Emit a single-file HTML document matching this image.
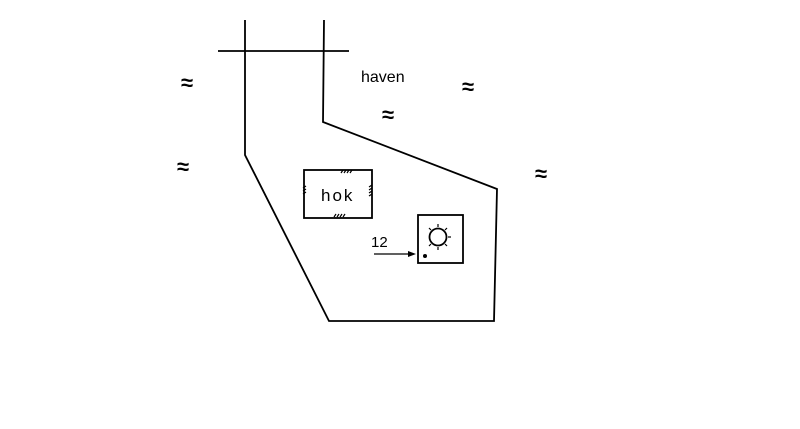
<!DOCTYPE html>
<html><head><style>body{margin:0;background:#fff}svg{display:block}</style></head><body>
<svg width="800" height="429" viewBox="0 0 800 429" xmlns="http://www.w3.org/2000/svg" font-family="Liberation Sans, sans-serif">
<g stroke="#000" fill="none" stroke-width="1.8">
<line x1="218" y1="51" x2="349" y2="51"/>
<polyline points="245,20 245,155 329,321 494,321 497,189 323,122 324,20"/>
<rect x="304" y="170" width="68" height="48"/>
<rect x="418" y="215" width="45" height="48"/>
<circle cx="438" cy="237" r="8.5"/>
<line x1="374" y1="254" x2="408" y2="254" stroke-width="1.2"/>
<g stroke-width="1.2">
<line x1="438" y1="224" x2="438" y2="227"/><line x1="447" y1="228" x2="445" y2="230"/><line x1="451" y1="237" x2="448" y2="237"/><line x1="447" y1="246" x2="445" y2="244"/><line x1="438" y1="250" x2="438" y2="247"/><line x1="429" y1="246" x2="431" y2="244"/><line x1="429" y1="228" x2="431" y2="230"/>
<path d="M341 173l2-3M344 173l2-3M347 173l2-3M350 173l2-3M334 217l2-3M337 217l2-3M340 217l2-3M343 217l2-3M303 188l3-2M303 191l3-2M303 194l3-2M369 187l3-2M369 190l3-2M369 193l3-2M369 196l3-2"/>
</g>
</g>
<polygon points="408,251 416,254 408,257" fill="#000"/>
<circle cx="425" cy="256" r="2" fill="#000"/>
<g font-size="16" fill="#000">
<text x="361" y="82">haven</text>
<text x="321" y="201" letter-spacing="2" font-size="17">hok</text>
<text x="371" y="247" font-size="15">12</text>
<g font-size="22" font-weight="bold">
<text x="181" y="90">≈</text><text x="177" y="174">≈</text><text x="382" y="122">≈</text><text x="462" y="94">≈</text><text x="535" y="181">≈</text>
</g>
</g>
</svg>
</body></html>
